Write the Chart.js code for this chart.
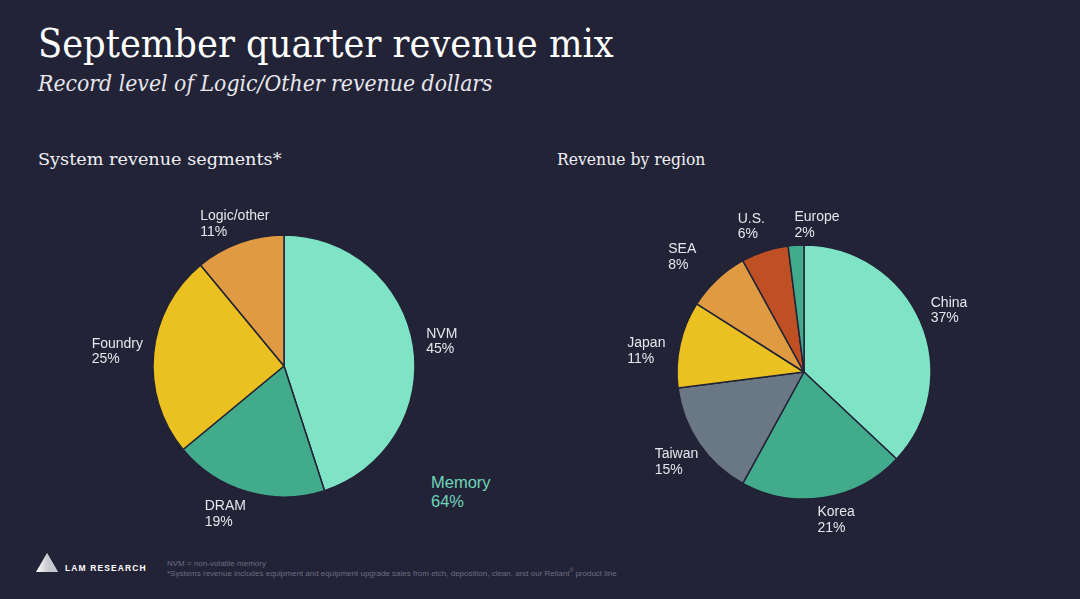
<!DOCTYPE html>
<html>
<head>
<meta charset="utf-8">
<script src="https://cdn.jsdelivr.net/npm/chart.js@4"></script>
<style>
  html, body { margin: 0; padding: 0; }
  body {
    width: 1080px; height: 599px; overflow: hidden;
    background: #232337; position: relative;
    font-family: "Liberation Sans", Arial, sans-serif;
  }
  .txt { position: absolute; white-space: nowrap; transform-origin: 0 0; }
  .serif { font-family: "DejaVu Serif", "Liberation Serif", serif; color: #ffffff; }
  #title    { left: 38px; top: 20px; font-size: 40px; }
  #subtitle { left: 38px; top: 71px; font-size: 22px; font-style: italic; color: #e6e6ec; }
  #head1    { left: 38px; top: 149px; font-size: 17px; color: #f0f0f4; }
  #head2    { left: 557px; top: 149px; font-size: 17px; color: #f0f0f4; }
  #memory   { left: 431px; top: 473px; font-size: 16.5px; color: #6fd6b9; line-height: 19px; }
  #brand    { left: 65px; top: 563px; font-size: 8.5px; font-weight: bold; color: #ffffff; letter-spacing: 1.1px; }
  #notes    { left: 167px; top: 559px; font-size: 8px; color: #6c6c82; line-height: 9.5px; }
  #notes sup { font-size: 5px; line-height: 0; position: relative; top: 1px; vertical-align: top; }
  canvas { position: absolute; }
  #segCanvas { left: 0; top: 190px; }
  #regCanvas { left: 540px; top: 190px; }
</style>
</head>
<body>
<div id="title" class="txt serif">September quarter revenue mix</div>
<div id="subtitle" class="txt serif">Record level of Logic/Other revenue dollars</div>
<div id="head1" class="txt serif">System revenue segments*</div>
<div id="head2" class="txt serif">Revenue by region</div>
<div id="memory" class="txt">Memory<br>64%</div>

<svg style="position:absolute;left:34px;top:551px" width="26" height="24">
  <defs>
    <linearGradient id="lg" x1="0" y1="0" x2="1" y2="0">
      <stop offset="0" stop-color="#ffffff"/>
      <stop offset="1" stop-color="#9a9aa6"/>
    </linearGradient>
  </defs>
  <polygon points="2,21 13,2 24,21" fill="url(#lg)"/>
  <polygon points="13,2 15,21 24,21" fill="#c8c8d0"/>
</svg>
<div id="brand" class="txt">LAM RESEARCH</div>
<div id="notes" class="txt">NVM = non-volatile memory<br>*Systems revenue includes equipment and equipment upgrade sales from etch, deposition, clean, and our Reliant<sup>®</sup> product line</div>

<canvas id="segCanvas" width="540" height="360"></canvas>
<canvas id="regCanvas" width="540" height="360"></canvas>

<script>
// ---- данные ----
const segLabels = ['NVM', 'DRAM', 'Foundry', 'Logic/other'];
const segValues = [45, 19, 25, 11];
const segColors = ['#7fe3c5', '#41ab8b', '#eac120', '#e09a42'];

const regLabels = ['China', 'Korea', 'Taiwan', 'Japan', 'SEA', 'U.S.', 'Europe'];
const regValues = [37, 21, 15, 11, 8, 6, 2];
const regColors = ['#7fe3c5', '#41ab8b', '#6a7784', '#eac120', '#e09a42', '#be5024', '#41ab8b'];

// смещение подписи от точки за краем сектора (лево / базовая линия первой строки)
const segLabelShift = [[3, -6], [-40, 9], [-52, -5], [-36, -13]];
const regLabelShift = [[1, -11], [-8, 9], [-36, 9], [-43, 5], [-42, -19], [-24, -19], [-1, -14]];

// подгоняем ширину заголовков под оригинал
function fitWidth(id, w) {
  const el = document.getElementById(id);
  el.style.transform = 'scaleX(' + (w / el.offsetWidth) + ')';
}
fitWidth('title', 576);
fitWidth('subtitle', 455);
fitWidth('head1', 243);
fitWidth('head2', 148);

// подписи секторов: название + процент
const sliceLabels = {
  id: 'sliceLabels',
  afterDatasetsDraw(chart, args, opts) {
    const ctx = chart.ctx;
    const meta = chart.getDatasetMeta(0);
    const ds = chart.data.datasets[0];
    ctx.save();
    ctx.font = '14px "Liberation Sans", Arial, sans-serif';
    ctx.fillStyle = '#e6e6ec';
    ctx.textAlign = 'left';
    ctx.textBaseline = 'alphabetic';
    meta.data.forEach((arc, i) => {
      const mid = (arc.startAngle + arc.endAngle) / 2;
      const r = arc.outerRadius + 10;
      const ax = arc.x + Math.cos(mid) * r + opts.shift[i][0];
      const ay = arc.y + Math.sin(mid) * r + opts.shift[i][1];
      ctx.fillText(chart.data.labels[i], ax, ay);
      ctx.fillText(ds.data[i] + '%', ax, ay + 15.5);
    });
    ctx.restore();
  }
};

function pieOptions(pad, shift) {
  return {
    responsive: false,
    animation: false,
    layout: { padding: pad },
    plugins: {
      legend: { display: false },
      tooltip: { enabled: false },
      sliceLabels: { shift: shift }
    }
  };
}

new Chart(document.getElementById('segCanvas'), {
  type: 'pie',
  data: {
    labels: segLabels,
    datasets: [{
      data: segValues,
      backgroundColor: segColors,
      borderColor: '#232337',
      borderWidth: 1.5,
      hoverOffset: 0
    }]
  },
  options: pieOptions({ left: 152.25, right: 124.25, top: 44.25, bottom: 52.25 }, segLabelShift),
  plugins: [sliceLabels]
});

new Chart(document.getElementById('regCanvas'), {
  type: 'pie',
  data: {
    labels: regLabels,
    datasets: [{
      data: regValues,
      backgroundColor: regColors,
      borderColor: '#232337',
      borderWidth: 1.5,
      hoverOffset: 0
    }]
  },
  options: pieOptions({ left: 136.25, right: 148.25, top: 54.25, bottom: 50.25 }, regLabelShift),
  plugins: [sliceLabels]
});
</script>
</body>
</html>
